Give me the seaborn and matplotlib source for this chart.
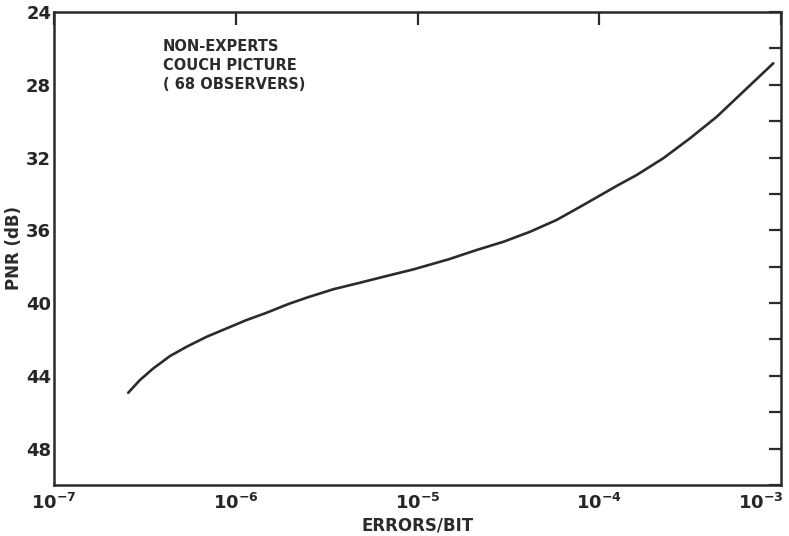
import numpy as np
import pandas as pd
import matplotlib
matplotlib.use("Agg")
import matplotlib.pyplot as plt
import matplotlib.transforms as mtransforms
import seaborn as sns
from matplotlib.ticker import FixedLocator, MultipleLocator, LogFormatterMathtext

# Subjective threshold curve: picture-to-noise ratio vs. bit error rate
errors_per_bit = [2.56e-7, 2.97e-7, 3.52e-7, 4.35e-7, 5.37e-7, 6.92e-7,
                  8.92e-7, 1.148e-6, 1.48e-6, 1.95e-6, 2.46e-6, 3.44e-6,
                  4.83e-6, 6.77e-6, 9.48e-6, 1.477e-5, 2.12e-5, 2.97e-5,
                  4.16e-5, 5.83e-5, 8.17e-5, 1.273e-4, 1.607e-4, 2.25e-4,
                  3.16e-4, 4.43e-4, 6.20e-4, 9.07e-4]
pnr_db = [44.93, 44.23, 43.59, 42.91, 42.40, 41.85,
          41.39, 40.93, 40.53, 40.05, 39.70, 39.24,
          38.88, 38.51, 38.15, 37.60, 37.08, 36.63,
          36.08, 35.43, 34.61, 33.51, 32.96, 32.04,
          30.94, 29.76, 28.38, 26.82]

y_major = [24, 28, 32, 36, 40, 44, 48]
x_major = [1e-7, 1e-6, 1e-5, 1e-4, 1e-3]

annotation_lines = ["NON-EXPERTS", "COUCH PICTURE", "( 68 OBSERVERS)"]

df = pd.DataFrame({"errors": errors_per_bit, "pnr": pnr_db})

sns.set_style("white")
plt.rcParams["font.family"] = ["DejaVu Sans"]

ink = "#2b2b2b"
fig = plt.figure(figsize=(7.89, 5.36), dpi=100)
ax = fig.add_axes([54 / 789, 1 - 485 / 536, (781 - 54) / 789, (485 - 12) / 536])

sns.lineplot(data=df, x="errors", y="pnr", ax=ax, color=ink, linewidth=1.9,
             estimator=None, sort=False)
ax.lines[0].set_solid_joinstyle("round")

ax.set_xscale("log")
ax.set_xlim(1e-7, 1e-3)
ax.set_ylim(50, 24)

ax.xaxis.set_major_locator(FixedLocator(x_major))
ax.xaxis.set_major_formatter(LogFormatterMathtext())
ax.xaxis.set_minor_locator(FixedLocator([]))
ax.yaxis.set_major_locator(FixedLocator(y_major))
ax.yaxis.set_minor_locator(MultipleLocator(2))

for side in ["left", "right", "top", "bottom"]:
    ax.spines[side].set_visible(True)
    ax.spines[side].set_color(ink)
    ax.spines[side].set_linewidth(1.8)

ax.tick_params(axis="both", which="both", direction="in", color=ink,
               width=1.6, top=True, right=True)
ax.tick_params(axis="y", which="both", length=9, labelsize=13, pad=2)
ax.tick_params(axis="y", which="minor", labelleft=False)
ax.tick_params(axis="x", which="major", length=9, labelsize=13, pad=6)

fig.canvas.draw()
for lbl in ax.get_yticklabels():
    lbl.set_fontweight("bold")
xlabels = ax.get_xticklabels()
for lbl in xlabels:
    lbl.set_fontweight("bold")
# keep the rightmost decade label inside the figure
shift = mtransforms.ScaledTranslation(-20 / 100, 0, fig.dpi_scale_trans)
xlabels[-1].set_transform(xlabels[-1].get_transform() + shift)

ax.set_xlabel("ERRORS/BIT", fontsize=12, fontweight="bold", color=ink, labelpad=2)
ax.set_ylabel("PNR (dB)", fontsize=12, fontweight="bold", color=ink, labelpad=2)

for i, line in enumerate(annotation_lines):
    ax.text(0.150, 0.927 - i * 0.040, line, transform=ax.transAxes,
            fontsize=10.5, fontweight="bold", color=ink, va="center", ha="left")

fig.savefig("out.png", dpi=100, facecolor="white")
